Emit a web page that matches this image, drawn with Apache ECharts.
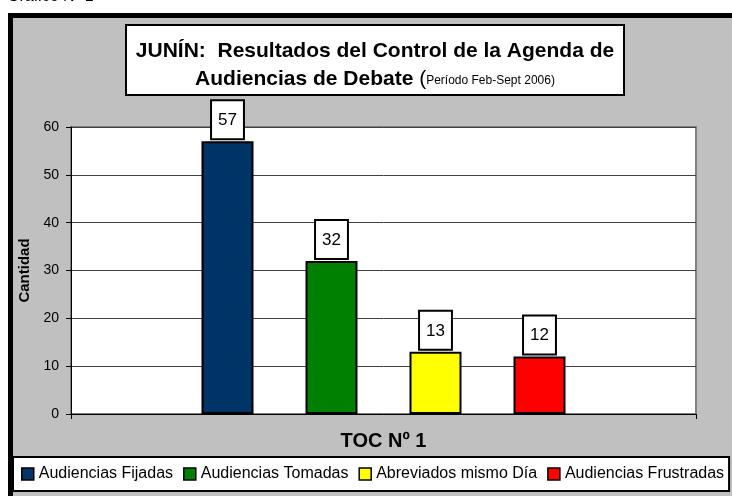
<!DOCTYPE html>
<html>
<head>
<meta charset="utf-8">
<script src="https://cdn.jsdelivr.net/npm/echarts@6/dist/echarts.min.js"></script>
<style>
html,body{margin:0;padding:0;background:#fff;}
#main{width:732px;height:496px;}
</style>
</head>
<body>
<div id="main"></div>
<script>
/*datos del grafico*/
var categorias = ['TOC Nº 1'];
var nombres = ['Audiencias Fijadas', 'Audiencias Tomadas', 'Abreviados mismo Día', 'Audiencias Frustradas'];
var fijadas = [57];
var tomadas = [32];
var abreviados = [13];
var frustradas = [12];
var yMin = 0, yMax = 60, yPaso = 10;

var fuente = "'Liberation Sans', Arial, sans-serif";

var etiqueta = {
    show: true,
    position: 'top',
    distance: 3,
    color: '#000',
    fontFamily: fuente,
    fontSize: 17,
    lineHeight: 20,
    backgroundColor: '#fff',
    borderColor: '#000',
    borderWidth: 2,
    padding: [9, 6, 8, 6]
};

function serie(nombre, datos, color){
    return {
        name: nombre,
        type: 'bar',
        barWidth: 52,
        barGap: '100%',
        itemStyle: {
            color: color,
            borderColor: '#000',
            borderWidth: 2
        },
        label: etiqueta,
        data: datos
    };
}

var option = {
    animation: false,
    textStyle: {fontFamily: fuente},
    grid: {
        left: 71,
        right: 36,
        top: 127,
        bottom: 82,
        show: true,
        backgroundColor: '#fff',
        borderColor: '#808080',
        borderWidth: 2
    },
    legend: {
        left: 13,
        top: 457,
        padding: [8, 5, 8, 8],
        itemGap: 10,
        itemWidth: 12,
        itemHeight: 12,
        icon: 'rect',
        backgroundColor: '#fff',
        borderColor: '#000',
        borderWidth: 2,
        itemStyle: {borderColor: '#000', borderWidth: 1.5},
        textStyle: {color: '#000', fontSize: 16, lineHeight: 18, fontFamily: fuente},
        data: nombres
    },
    xAxis: {
        type: 'category',
        data: categorias,
        axisLine: {lineStyle: {color: '#000', width: 1}},
        axisTick: {show: true, length: 5, lineStyle: {color: '#000'}},
        axisLabel: {
            color: '#000',
            fontSize: 20,
            fontWeight: 'bold',
            margin: 17,
            fontFamily: fuente
        }
    },
    yAxis: {
        type: 'value',
        min: yMin,
        max: yMax,
        interval: yPaso,
        name: 'Cantidad',
        nameLocation: 'middle',
        nameRotate: 90,
        nameGap: 38,
        nameTextStyle: {color: '#000', fontSize: 15, fontWeight: 'bold', fontFamily: fuente},
        axisLine: {show: true, lineStyle: {color: '#000', width: 1}},
        axisTick: {show: true, length: 5, lineStyle: {color: '#000'}},
        axisLabel: {color: '#000', fontSize: 14, margin: 12, fontFamily: fuente},
        splitLine: {show: true, lineStyle: {color: '#404040', width: 1}}
    },
    graphic: [
        {
            type: 'rect',
            z: -10,
            shape: {x: 10.5, y: 15.5, width: 760, height: 520},
            style: {fill: '#c0c0c0', stroke: '#000', lineWidth: 5}
        },
        {
            type: 'text',
            x: 7,
            y: 5,
            style: {
                text: 'Gráfico Nº 1',
                fill: '#000',
                font: "16px 'Liberation Sans', Arial, sans-serif",
                verticalAlign: 'bottom'
            }
        },
        {
            type: 'rect',
            shape: {x: 126, y: 25, width: 498, height: 70},
            style: {fill: '#fff', stroke: '#000', lineWidth: 2}
        },
        {
            type: 'text',
            x: 375,
            y: 65,
            style: {
                text: '{b|JUNÍN:  Resultados del Control de la Agenda de}\n{b|Audiencias de Debate }{p|(}{s|Período Feb-Sept 2006)}',
                align: 'center',
                verticalAlign: 'middle',
                fill: '#000',
                rich: {
                    b: {fontSize: 21, fontWeight: 'bold', lineHeight: 28, fontFamily: fuente, fill: '#000'},
                    p: {fontSize: 21, lineHeight: 28, fontFamily: fuente, fill: '#000'},
                    s: {fontSize: 12, padding: [4, 0, 0, 0], fontFamily: fuente, fill: '#000'}
                }
            }
        }
    ],
    series: [
        serie(nombres[0], fijadas, '#003366'),
        serie(nombres[1], tomadas, '#008000'),
        serie(nombres[2], abreviados, '#ffff00'),
        serie(nombres[3], frustradas, '#ff0000')
    ]
};

var myChart = echarts.init(document.getElementById('main'));
myChart.setOption(option);
</script>
</body>
</html>
